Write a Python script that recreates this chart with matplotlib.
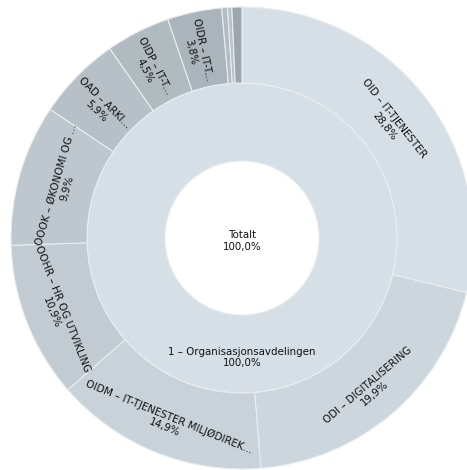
import numpy as np
import matplotlib
matplotlib.use("Agg")
import matplotlib.pyplot as plt

# Hierarchy: total -> department -> sections
root_label = "Totalt"
root_pct = "100,0%"
dept_label = "1 – Organisasjonsavdelingen"
dept_pct = "100,0%"

section_names = [
    "OID – IT-TJENESTER",
    "ODI – DIGITALISERING",
    "OIDM – IT-TJENESTER MILJØDIREK...",
    "OOHR – HR OG UTVIKLING",
    "OOOK – ØKONOMI OG ...",
    "OAD – ARKI...",
    "OIDP – IT-T...",
    "OIDR – IT-T...",
    "",
    "",
    "",
]
section_values = [28.8, 19.9, 14.9, 10.9, 9.9, 5.9, 4.5, 3.8, 0.4, 0.3, 0.7]
section_colors = [
    "#d6dfe5", "#ccd6dc", "#c8d2d8", "#c2cbd1", "#bec7cd",
    "#b7c0c6", "#b0babf", "#aab4ba", "#b2bcc1", "#b9c2c7", "#9ca6ac",
]

W, H = 467, 470
CX, CY = 242, H - 238
R_IN, R_MID, R_OUT = 77, 155, 231
EDGE = "#e8edf0"
TXT = "#111111"
FS = 7.4

fig = plt.figure(figsize=(W / 100, H / 100), dpi=100)
ax = fig.add_axes([0, 0, 1, 1])

# department ring
ax.pie([100], radius=R_MID, center=(CX, CY), startangle=90, counterclock=False,
       colors=["#d6dfe5"],
       wedgeprops=dict(width=R_MID - R_IN, edgecolor=EDGE, linewidth=0.8))

# section ring
wedges, _ = ax.pie(section_values, radius=R_OUT, center=(CX, CY), startangle=90,
                   counterclock=False, colors=section_colors,
                   wedgeprops=dict(width=R_OUT - R_MID, edgecolor=EDGE, linewidth=0.8))


def upright(rot):
    rot = (rot + 180) % 360 - 180
    if rot > 90:
        rot -= 180
    elif rot < -90:
        rot += 180
    return rot


r_lab = (R_MID + R_OUT) / 2
line_gap = 11.5
for w, name, val in zip(wedges, section_names, section_values):
    if not name:
        continue
    mid = np.deg2rad((w.theta1 + w.theta2) / 2)
    mid_deg = np.rad2deg(mid)
    if val >= 8:
        rot = upright(mid_deg - 90)   # along the ring
    else:
        rot = upright(mid_deg)        # across the ring
    x0 = CX + r_lab * np.cos(mid)
    y0 = CY + r_lab * np.sin(mid)
    dr = np.deg2rad(rot)
    dx, dy = np.sin(dr), -np.cos(dr)
    ax.text(x0, y0, name, rotation=rot, rotation_mode="anchor",
            ha="center", va="center", fontsize=FS, color=TXT)
    ax.text(x0 + line_gap * dx, y0 + line_gap * dy, f"{val:.1f}%".replace(".", ","),
            rotation=rot, rotation_mode="anchor", ha="center", va="center",
            fontsize=FS, color=TXT)

# centre and department labels
ax.text(CX, H - 235, root_label, ha="center", va="center", fontsize=FS, color=TXT)
ax.text(CX, H - 247, root_pct, ha="center", va="center", fontsize=FS, color=TXT)
ax.text(CX, H - 352, dept_label, ha="center", va="center", fontsize=FS, color=TXT)
ax.text(CX, H - 363, dept_pct, ha="center", va="center", fontsize=FS, color=TXT)

ax.set_xlim(0, W)
ax.set_ylim(0, H)
ax.set_aspect("equal")
ax.axis("off")

fig.savefig("out.png", dpi=100, facecolor="white")
